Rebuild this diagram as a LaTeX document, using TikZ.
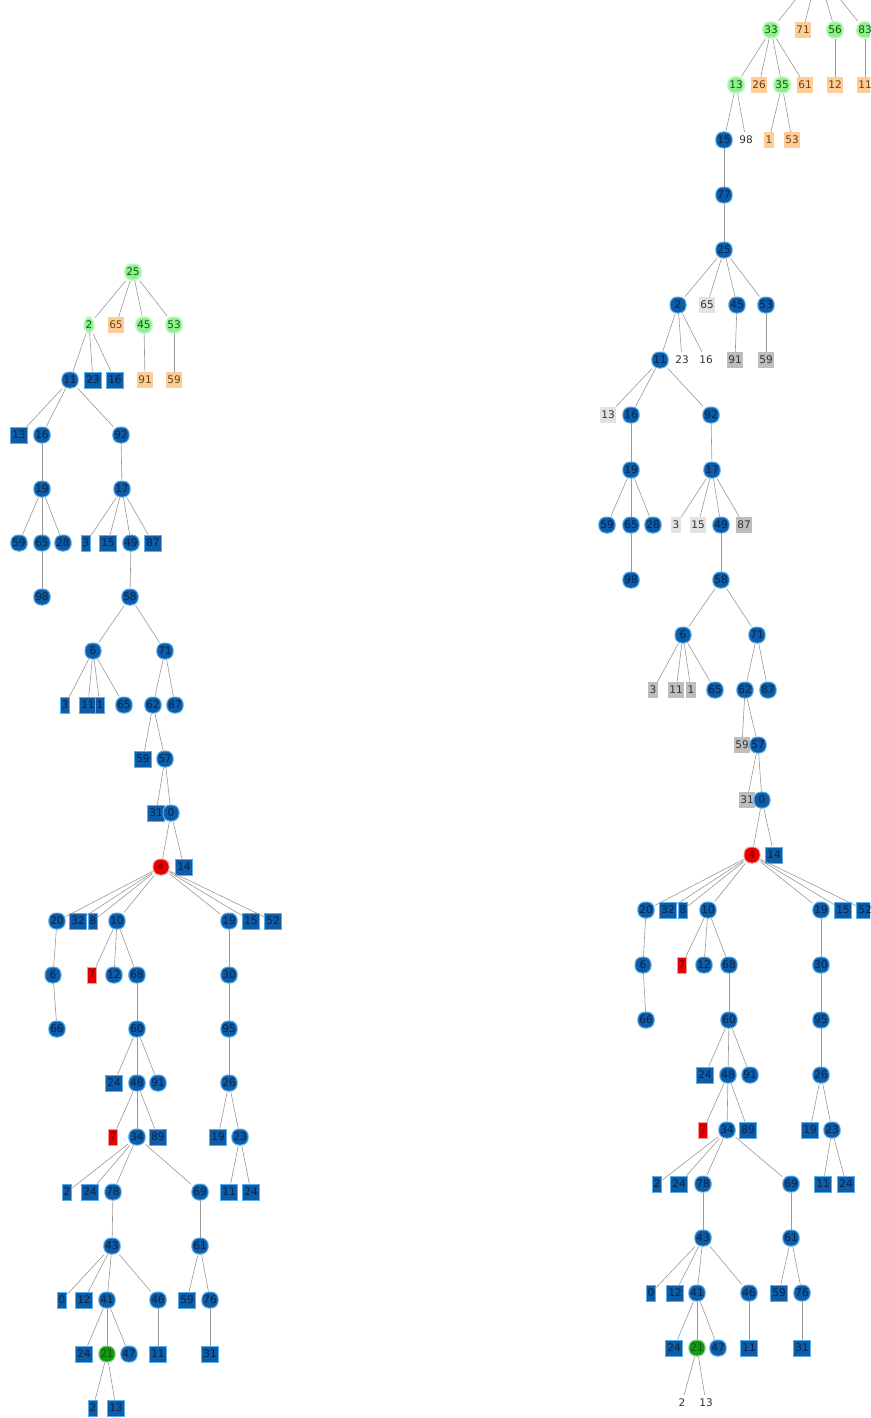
\documentclass[tikz,border=0pt]{standalone}
\usepackage{fontspec}
\setmainfont{DejaVu Sans}
\usepackage{tikz}
\usetikzlibrary{positioning}
\definecolor{nodeblue}{HTML}{0F5CA6}
\definecolor{glowblue}{HTML}{5AB0EC}
\definecolor{inkblue}{HTML}{082448}
\definecolor{lightgrn}{HTML}{8CF08C}
\definecolor{inkgrn}{HTML}{0E5A0E}
\definecolor{darkgrn}{HTML}{139A13}
\definecolor{peach}{HTML}{FFCB96}
\definecolor{inkbrown}{HTML}{6A4210}
\definecolor{midgray}{HTML}{BDBDBD}
\definecolor{palegray}{HTML}{E2E2E2}
\definecolor{hotred}{HTML}{E80000}
\definecolor{inkred}{HTML}{6A0000}
\definecolor{edgegray}{HTML}{989898}
\newcommand{\tfont}{\fontsize{10.5}{11}\selectfont}
\tikzset{
    every edge/.style={draw,edgegray,line width=0.6pt},
    base/.style={inner xsep=1.5pt,inner ysep=1pt,minimum height=16pt,font=\tfont},
    rnd/.style={base,rounded corners=7pt,fill=nodeblue,draw=glowblue,line width=1pt,text=inkblue,minimum width=16pt},
    sqr/.style={base,fill=nodeblue,draw=glowblue,line width=0.8pt,text=inkblue},
    grn/.style={base,rounded corners=7pt,fill=lightgrn,draw=lightgrn!55,line width=1.5pt,text=inkgrn},
    org/.style={base,fill=peach,text=inkbrown},
    gry/.style={base,fill=midgray,text=black!80},
    lgry/.style={base,fill=palegray,text=black!80},
    pln/.style={base,text=black!80},
    redr/.style={rnd,fill=hotred,draw=hotred!40,text=inkred},
    reds/.style={sqr,fill=hotred,draw=hotred!40,text=inkred},
    dgrn/.style={rnd,fill=darkgrn,draw=darkgrn!40,text=inkgrn},
}

\begin{document}
\begin{tikzpicture}[x=1pt,y=-1pt]
    \useasboundingbox (0,0) rectangle (870,1418);
    \clip (0,0) rectangle (870,1418);

    % left tree
    \node[grn] (L25) at (133,272) {25};
    \node[grn] (L2) at (89,325) {2};
    \node[org] (L65) at (116,325) {65};
    \node[grn] (L45) at (144,325) {45};
    \node[grn] (L53) at (174,325) {53};
    \node[rnd] (L11) at (70,380) {11};
    \node[sqr] (L23) at (93,380) {23};
    \node[sqr] (L16) at (115,380) {16};
    \node[org] (L91) at (145,380) {91};
    \node[org] (L59) at (174,380) {59};
    \node[sqr] (L13) at (19,435) {13};
    \node[rnd] (L16b) at (42,435) {16};
    \node[rnd] (L92) at (121,435) {92};
    \node[rnd] (L19) at (42,489) {19};
    \node[rnd] (L17) at (122,489) {17};
    \node[rnd] (L59b) at (19,543) {59};
    \node[rnd] (L65b) at (42,543) {65};
    \node[rnd] (L28) at (63,543) {28};
    \node[sqr] (L3) at (86,543) {3};
    \node[sqr] (L15) at (108,543) {15};
    \node[rnd] (L49) at (131,543) {49};
    \node[sqr] (L87) at (153,543) {87};
    \node[rnd] (L98) at (42,597) {98};
    \node[rnd] (L58) at (130,597) {58};
    \node[rnd] (L6) at (93,651) {6};
    \node[rnd] (L71) at (165,651) {71};
    \node[sqr] (L3b) at (65,705) {3};
    \node[sqr] (L11b) at (88,705) {11};
    \node[sqr] (L1) at (100,705) {1};
    \node[rnd] (L65c) at (124,705) {65};
    \node[rnd] (L62) at (153,705) {62};
    \node[rnd] (L87b) at (175,705) {87};
    \node[sqr] (L59c) at (143,759) {59};
    \node[rnd] (L57) at (165,759) {57};
    \node[sqr] (L31) at (156,813) {31};
    \node[rnd] (L0) at (171,813) {0};
    \node[redr] (L4) at (161,867) {4};
    \node[sqr] (L14) at (184,867) {14};
    \node[rnd] (L20) at (57,921) {20};
    \node[sqr] (L32) at (78,921) {32};
    \node[sqr] (L8) at (93,921) {8};
    \node[rnd] (L10) at (117,921) {10};
    \node[rnd] (L19b) at (229,921) {19};
    \node[sqr] (L15b) at (251,921) {15};
    \node[sqr] (L52) at (273,921) {52};
    \node[rnd] (L6b) at (53,975) {6};
    \node[reds] (L7) at (92,975) {7};
    \node[rnd] (L12) at (114,975) {12};
    \node[rnd] (L68) at (137,975) {68};
    \node[rnd] (L30) at (229,975) {30};
    \node[rnd] (L66) at (57,1029) {66};
    \node[rnd] (L60) at (137,1029) {60};
    \node[rnd] (L95) at (229,1029) {95};
    \node[sqr] (L24) at (114,1083) {24};
    \node[rnd] (L48) at (137,1083) {48};
    \node[rnd] (L91b) at (158,1083) {91};
    \node[rnd] (L26) at (229,1083) {26};
    \node[reds] (L7b) at (113,1137) {7};
    \node[rnd] (L34) at (137,1137) {34};
    \node[sqr] (L89) at (158,1137) {89};
    \node[sqr] (L19c) at (218,1137) {19};
    \node[rnd] (L23b) at (240,1137) {23};
    \node[sqr] (L2b) at (67,1192) {2};
    \node[sqr] (L24b) at (90,1192) {24};
    \node[rnd] (L78) at (113,1192) {78};
    \node[rnd] (L69) at (200,1192) {69};
    \node[sqr] (L11c) at (229,1192) {11};
    \node[sqr] (L24c) at (251,1192) {24};
    \node[rnd] (L43) at (112,1246) {43};
    \node[rnd] (L61) at (200,1246) {61};
    \node[sqr] (L0b) at (62,1300) {0};
    \node[sqr] (L12b) at (84,1300) {12};
    \node[rnd] (L41) at (107,1300) {41};
    \node[rnd] (L46) at (158,1300) {46};
    \node[sqr] (L59d) at (187,1300) {59};
    \node[rnd] (L76) at (210,1300) {76};
    \node[sqr] (L24d) at (84,1354) {24};
    \node[dgrn] (L21) at (107,1354) {21};
    \node[rnd] (L47) at (129,1354) {47};
    \node[sqr] (L11d) at (158,1354) {11};
    \node[sqr] (L31b) at (210,1354) {31};
    \node[sqr] (L2c) at (93,1408) {2};
    \node[sqr] (L13b) at (116,1408) {13};

    \path
    (L25) edge (L2) edge (L65) edge (L45) edge (L53)
    (L2) edge (L11) edge (L23) edge (L16)
    (L45) edge (L91)
    (L53) edge (L59)
    (L11) edge (L13) edge (L16b) edge (L92)
    (L16b) edge (L19)
    (L92) edge (L17)
    (L19) edge (L59b) edge (L65b) edge (L28)
    (L17) edge (L3) edge (L15) edge (L49) edge (L87)
    (L65b) edge (L98)
    (L49) edge (L58)
    (L58) edge (L6) edge (L71)
    (L6) edge (L3b) edge (L11b) edge (L1) edge (L65c)
    (L71) edge (L62) edge (L87b)
    (L62) edge (L59c) edge (L57)
    (L57) edge (L31) edge (L0)
    (L0) edge (L4) edge (L14)
    (L4) edge (L20) edge (L32) edge (L8) edge (L10) edge (L19b) edge (L15b) edge (L52)
    (L20) edge (L6b)
    (L6b) edge (L66)
    (L10) edge (L7) edge (L12) edge (L68)
    (L68) edge (L60)
    (L60) edge (L24) edge (L48) edge (L91b)
    (L48) edge (L7b) edge (L34) edge (L89)
    (L34) edge (L2b) edge (L24b) edge (L78) edge (L69)
    (L78) edge (L43)
    (L43) edge (L0b) edge (L12b) edge (L41) edge (L46)
    (L41) edge (L24d) edge (L21) edge (L47)
    (L21) edge (L2c) edge (L13b)
    (L46) edge (L11d)
    (L69) edge (L61)
    (L61) edge (L59d) edge (L76)
    (L76) edge (L31b)
    (L19b) edge (L30)
    (L30) edge (L95)
    (L95) edge (L26)
    (L26) edge (L19c) edge (L23b)
    (L23b) edge (L11c) edge (L24c);

    % right tree
    \coordinate (Rtop) at (818,-28);
    \node[grn] (R33) at (771,30) {33};
    \node[org] (R71) at (803,30) {71};
    \node[grn] (R56) at (835,30) {56};
    \node[grn] (R83) at (865,30) {83};
    \node[grn] (R13) at (736,85) {13};
    \node[org] (R26) at (759,85) {26};
    \node[grn] (R35) at (782,85) {35};
    \node[org] (R61) at (805,85) {61};
    \node[org] (R12) at (835,85) {12};
    \node[org] (R11) at (865,85) {11};
    \node[rnd] (R15) at (724,140) {15};
    \node[pln] (R98) at (746,140) {98};
    \node[org] (R1) at (769,140) {1};
    \node[org] (R53) at (792,140) {53};
    \node[rnd] (R77) at (724,195) {77};
    \node[rnd] (R25) at (724,250) {25};
    \node[rnd] (R2) at (678,305) {2};
    \node[lgry] (R65) at (707,305) {65};
    \node[rnd] (R45) at (737,305) {45};
    \node[rnd] (R53b) at (766,305) {53};
    \node[rnd] (R11b) at (660,360) {11};
    \node[pln] (R23) at (682,360) {23};
    \node[pln] (R16) at (706,360) {16};
    \node[gry] (R91) at (735,360) {91};
    \node[gry] (R59) at (766,360) {59};
    \node[lgry] (R13b) at (608,415) {13};
    \node[rnd] (R16b) at (631,415) {16};
    \node[rnd] (R92) at (711,415) {92};
    \node[rnd] (R19) at (631,470) {19};
    \node[rnd] (R17) at (712,470) {17};
    \node[rnd] (R59b) at (607,525) {59};
    \node[rnd] (R65b) at (631,525) {65};
    \node[rnd] (R28) at (653,525) {28};
    \node[lgry] (R3) at (676,525) {3};
    \node[lgry] (R15b) at (698,525) {15};
    \node[rnd] (R49) at (721,525) {49};
    \node[gry] (R87) at (744,525) {87};
    \node[rnd] (R98b) at (631,580) {98};
    \node[rnd] (R58) at (721,580) {58};
    \node[rnd] (R6) at (683,635) {6};
    \node[rnd] (R71b) at (757,635) {71};
    \node[gry] (R3b) at (653,690) {3};
    \node[gry] (R11c) at (676,690) {11};
    \node[gry] (R1b) at (691,690) {1};
    \node[rnd] (R65c) at (715,690) {65};
    \node[rnd] (R62) at (745,690) {62};
    \node[rnd] (R87b) at (768,690) {87};
    \node[gry] (R59c) at (742,745) {59};
    \node[rnd] (R57) at (758,745) {57};
    \node[gry] (R31) at (747,800) {31};
    \node[rnd] (R0) at (762,800) {0};
    \node[redr] (R4) at (752,855) {4};
    \node[sqr] (R14) at (774,855) {14};
    \node[rnd] (R20) at (646,910) {20};
    \node[sqr] (R32) at (668,910) {32};
    \node[sqr] (R8) at (683,910) {8};
    \node[rnd] (R10) at (708,910) {10};
    \node[rnd] (R19b) at (821,910) {19};
    \node[sqr] (R15c) at (843,910) {15};
    \node[sqr] (R52) at (865,910) {52};
    \node[rnd] (R6b) at (643,965) {6};
    \node[reds] (R7) at (682,965) {7};
    \node[rnd] (R12b) at (704,965) {12};
    \node[rnd] (R68) at (729,965) {68};
    \node[rnd] (R30) at (821,965) {30};
    \node[rnd] (R66) at (646,1020) {66};
    \node[rnd] (R60) at (729,1020) {60};
    \node[rnd] (R95) at (821,1020) {95};
    \node[sqr] (R24) at (705,1075) {24};
    \node[rnd] (R48) at (728,1075) {48};
    \node[rnd] (R91b) at (750,1075) {91};
    \node[rnd] (R26b) at (821,1075) {26};
    \node[reds] (R7b) at (703,1130) {7};
    \node[rnd] (R34) at (727,1130) {34};
    \node[sqr] (R89) at (748,1130) {89};
    \node[sqr] (R19c) at (810,1130) {19};
    \node[rnd] (R23b) at (832,1130) {23};
    \node[sqr] (R2b) at (657,1184) {2};
    \node[sqr] (R24b) at (679,1184) {24};
    \node[rnd] (R78) at (703,1184) {78};
    \node[rnd] (R69) at (791,1184) {69};
    \node[sqr] (R11d) at (823,1184) {11};
    \node[sqr] (R24c) at (846,1184) {24};
    \node[rnd] (R43) at (703,1238) {43};
    \node[rnd] (R61b) at (791,1238) {61};
    \node[sqr] (R0b) at (651,1293) {0};
    \node[sqr] (R12c) at (675,1293) {12};
    \node[rnd] (R41) at (697,1293) {41};
    \node[rnd] (R46) at (749,1293) {46};
    \node[sqr] (R59d) at (779,1293) {59};
    \node[rnd] (R76) at (802,1293) {76};
    \node[sqr] (R24d) at (674,1348) {24};
    \node[dgrn] (R21) at (697,1348) {21};
    \node[rnd] (R47) at (718,1348) {47};
    \node[sqr] (R11e) at (749,1348) {11};
    \node[sqr] (R31b) at (802,1348) {31};
    \node[pln] (R2c) at (682,1403) {2};
    \node[pln] (R13c) at (706,1403) {13};

    \path
    (Rtop) edge (R33) edge (R71) edge (R56) edge (R83)
    (R33) edge (R13) edge (R26) edge (R35) edge (R61)
    (R56) edge (R12)
    (R83) edge (R11)
    (R13) edge (R15) edge (R98)
    (R35) edge (R1) edge (R53)
    (R15) edge (R77)
    (R77) edge (R25)
    (R25) edge (R2) edge (R65) edge (R45) edge (R53b)
    (R2) edge (R11b) edge (R23) edge (R16)
    (R45) edge (R91)
    (R53b) edge (R59)
    (R11b) edge (R13b) edge (R16b) edge (R92)
    (R16b) edge (R19)
    (R92) edge (R17)
    (R19) edge (R59b) edge (R65b) edge (R28)
    (R17) edge (R3) edge (R15b) edge (R49) edge (R87)
    (R65b) edge (R98b)
    (R49) edge (R58)
    (R58) edge (R6) edge (R71b)
    (R6) edge (R3b) edge (R11c) edge (R1b) edge (R65c)
    (R71b) edge (R62) edge (R87b)
    (R62) edge (R59c) edge (R57)
    (R57) edge (R31) edge (R0)
    (R0) edge (R4) edge (R14)
    (R4) edge (R20) edge (R32) edge (R8) edge (R10) edge (R19b) edge (R15c) edge (R52)
    (R20) edge (R6b)
    (R6b) edge (R66)
    (R10) edge (R7) edge (R12b) edge (R68)
    (R68) edge (R60)
    (R60) edge (R24) edge (R48) edge (R91b)
    (R48) edge (R7b) edge (R34) edge (R89)
    (R34) edge (R2b) edge (R24b) edge (R78) edge (R69)
    (R78) edge (R43)
    (R43) edge (R0b) edge (R12c) edge (R41) edge (R46)
    (R41) edge (R24d) edge (R21) edge (R47)
    (R21) edge (R2c) edge (R13c)
    (R46) edge (R11e)
    (R69) edge (R61b)
    (R61b) edge (R59d) edge (R76)
    (R76) edge (R31b)
    (R19b) edge (R30)
    (R30) edge (R95)
    (R95) edge (R26b)
    (R26b) edge (R19c) edge (R23b)
    (R23b) edge (R11d) edge (R24c);
\end{tikzpicture}
\end{document}
